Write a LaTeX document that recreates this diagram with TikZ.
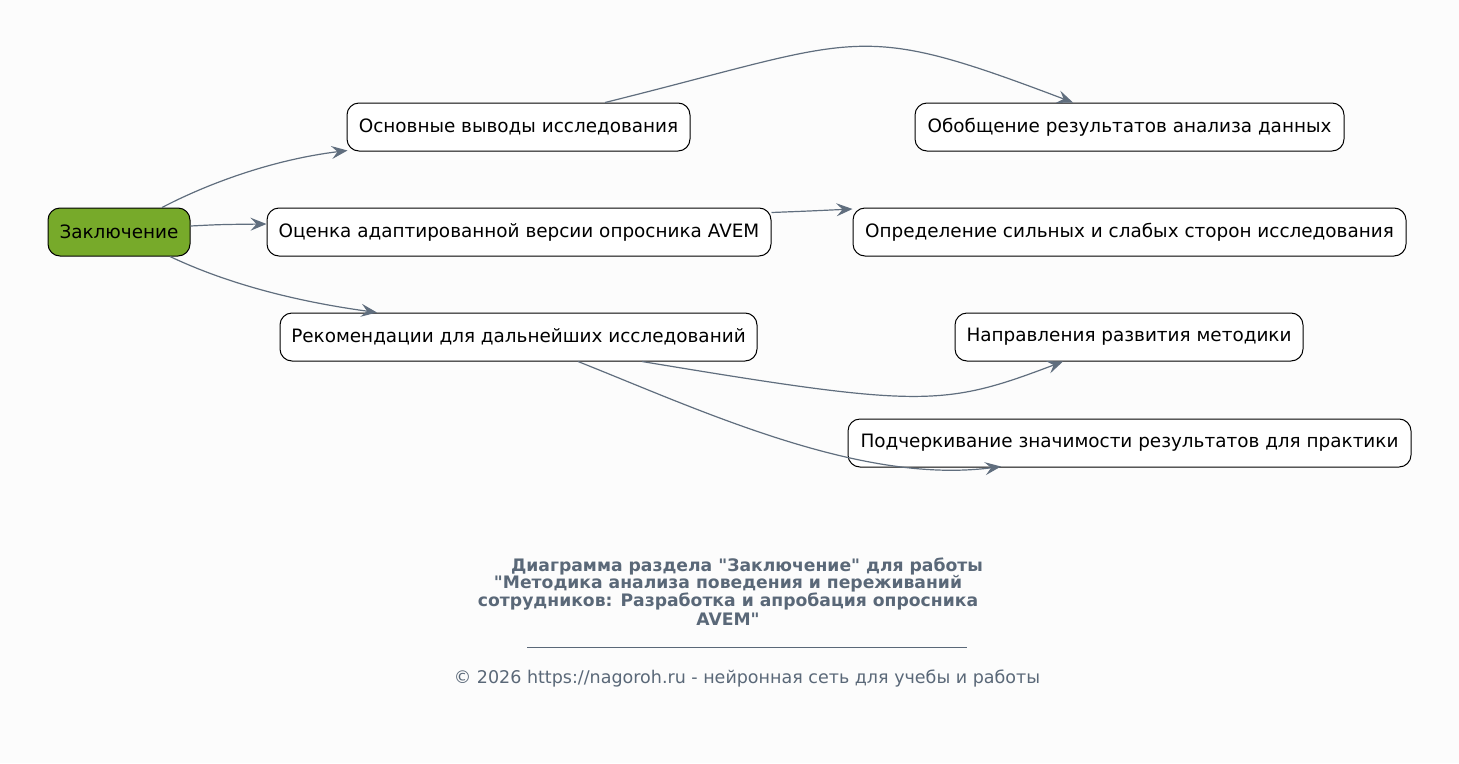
\documentclass[tikz,border=0pt]{standalone}
\usepackage{fontspec}
\setmainfont{DejaVu Sans}[Ligatures=TeXOff]
\usetikzlibrary{arrows.meta,calc}
\definecolor{edgecol}{RGB}{96,110,126}
\definecolor{rootfill}{RGB}{119,170,42}
\definecolor{titlecol}{RGB}{90,104,120}
\definecolor{bgcol}{RGB}{252,252,252}
\tikzset{
  box/.style={draw=black, line width=1pt, rounded corners=12pt, fill=white,
    minimum height=48pt, inner xsep=0pt, inner ysep=0pt,
    font=\fontsize{18.4}{22}\selectfont, text=black},
  rootbox/.style={box, fill=rootfill},
  edge/.style={draw=edgecol, line width=1.2pt, -{Stealth[length=16pt,width=13pt,inset=6pt]}},
  ttl/.style={text=titlecol, font=\fontsize{17.2}{20}\selectfont\bfseries, inner sep=0pt},
  foot/.style={text=titlecol, font=\fontsize{17.5}{20}\selectfont, inner sep=0pt}
}
\begin{document}
\begin{tikzpicture}[x=1pt,y=-1pt]
\fill[bgcol] (0,0) rectangle (1459,763);
\useasboundingbox (0,0) rectangle (1459,763);

\node[rootbox, minimum width=142pt] (root) at (119,232) {Заключение};
\node[box, minimum width=343pt] (a) at (518.5,127) {Основные выводы исследования};
\node[box, minimum width=504pt] (b) at (519,232) {Оценка адаптированной версии опросника AVEM};
\node[box, minimum width=477pt] (c) at (518.5,337) {Рекомендации для дальнейших исследований};
\node[box, minimum width=429pt] (d) at (1129.5,127) {Обобщение результатов анализа данных};
\node[box, minimum width=553pt] (e) at (1129.5,232) {Определение сильных и слабых сторон исследования};
\node[box, minimum width=348pt] (f) at (1129,337) {Направления развития методики};
\node[box, minimum width=563pt] (g) at (1129.5,443) {Подчеркивание значимости результатов для практики};

\draw[edge] ($(root.north)+(43,0)$) .. controls (205,185) and (270,160) .. ($(a.south west)+(1,-1)$);
\draw[edge] ($(root.east)+(0,-6)$) .. controls (220,224.5) .. ($(b.west)+(0,-8)$);
\draw[edge] ($(root.south)+(51,0)$) .. controls (230,285) and (300,302) .. ($(c.north)+(-141.5,0)$);
\draw[edge] ($(a.north)+(86.5,0)$) .. controls (865,38) and (853,19) .. ($(d.north)+(-56.5,0)$);
\draw[edge] ($(b.north east)+(0,5)$) .. controls (810,211) .. ($(e.north west)+(0,1.5)$);
\draw[edge] ($(c.south)+(123.5,0)$) .. controls (922,408) and (943,407) .. ($(f.south)+(-66,0)$);
\draw[edge] ($(c.south)+(59.5,0)$) .. controls (700,410) and (860,485) .. ($(g.south)+(-128.5,-1)$);

\node[ttl] (t1) at (747,566) {Диаграмма раздела "Заключение" для работы};
\node[ttl] (t2) at (728,584) {"Методика анализа поведения и переживаний};
\node[ttl] (t3) at (728,602) {сотрудников: Разработка и апробация опросника};
\node[ttl] (t4) at (728,619) {AVEM"};
\coordinate (r1) at (527,647);
\coordinate (r2) at (967,647);
\draw[titlecol, line width=0.8pt] (r1) -- (r2);
\node[foot] (ft) at (747,679) {© 2026 https://nagoroh.ru - нейронная сеть для учебы и работы};
\end{tikzpicture}
\end{document}
